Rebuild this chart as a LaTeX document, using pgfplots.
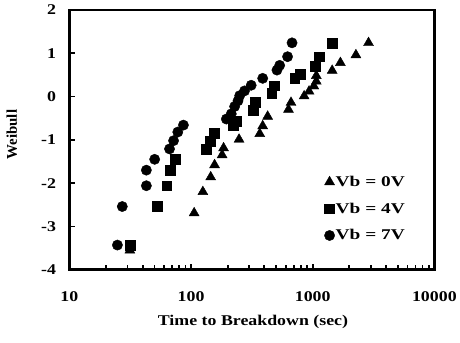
\documentclass[border=0pt]{standalone}
\usepackage{fontspec}
\setmainfont{Liberation Serif}
\usepackage{pgfplots}
\pgfplotsset{compat=1.18}
\newcommand{\stx}[1]{\scalebox{1.2}[1]{#1}}
\newcommand{\stl}[1]{\scalebox{1.3}[1]{#1}}
\begin{document}
\begin{tikzpicture}
\path (-70pt,-73pt) (390pt,272pt);
\begin{axis}[at={(0,0)}, anchor=south west, scale only axis, width=368pt, height=262pt,
  xmode=log, xmin=10, xmax=10000, ymin=-4, ymax=2,
  xtick={10,100,1000,10000}, xticklabels={\stx{10},\stx{100},\stx{1000},\stx{10000}},
  ytick={-4,-3,-2,-1,0,1,2}, yticklabels={\stx{-4},\stx{-3},\stx{-2},\stx{-1},\stx{0},\stx{1},\stx{2}},
  tick align=inside, xtick pos=left, ytick pos=left,
  major tick length=6pt, minor tick length=4.5pt,
  axis line style={black, line width=2.6pt},
  tick style={black, line width=1.8pt},
  /pgf/number format/assume math mode=true,
  ticklabel style={font=\fontsize{15}{18}\selectfont\bfseries},
  xticklabel style={yshift=-19pt},
  yticklabel style={xshift=-10pt},
  xlabel={\stx{Time to Breakdown (sec)}},
  xlabel style={at={(axis description cs:0.503,0)}, anchor=north, yshift=-42pt, font=\fontsize{15}{18}\selectfont\bfseries},
  ylabel={Weibull},
  ylabel style={at={(axis description cs:-0.158,0.52)}, anchor=center, font=\fontsize{15}{18}\selectfont\bfseries},
  legend style={draw=none, fill=none, at={(0.69,0.375)}, anchor=north west,
    font=\fontsize{15}{18}\selectfont\bfseries, row sep=12pt,
    nodes={inner sep=1pt, text height=11pt, text depth=2pt}},
  legend cell align=left,
  legend image code/.code={\draw[#1, only marks] plot coordinates {(0pt,0pt)};},
]
\addplot[only marks, mark=triangle*, mark size=5.8pt, black] coordinates {
(31.4,-3.55) (106,-2.69) (125,-2.20) (145,-1.86) (156,-1.58) (180,-1.35) (185,-1.19)
(248,-0.99) (367,-0.86) (388,-0.68) (426,-0.46) (632,-0.30) (663,-0.14) (850,0.01)
(933,0.12) (1021,0.24) (1070,0.35) (1070,0.48) (1445,0.60) (1688,0.78) (2265,0.96) (2876,1.24)
};
\addlegendentry{\stl{Vb = 0V}}
\addplot[only marks, mark=square*, mark size=5pt, black] coordinates {
(31.4,-3.43) (53.1,-2.53) (63.0,-2.06) (67.1,-1.71) (74.1,-1.45) (134,-1.22) (143,-1.03)
(155,-0.84) (221,-0.67) (235,-0.56) (322,-0.31) (337,-0.14) (460,0.07) (484,0.25)
(711,0.43) (785,0.52) (1040,0.70) (1138,0.92) (1445,1.24)
};
\addlegendentry{\stl{Vb = 4V}}
\addplot[only marks, mark=*, mark size=5.2pt, black] coordinates {
(24.8,-3.43) (27.2,-2.54) (42.9,-2.06) (42.9,-1.70) (50.2,-1.45) (66.5,-1.21) (71.8,-1.02)
(77.8,-0.82) (86.5,-0.66) (195,-0.52) (214,-0.40) (228,-0.23) (243,-0.10) (251,0.02)
(275,0.13) (312,0.26) (388,0.42) (508,0.61) (535,0.72) (621,0.92) (676,1.24)
};
\addlegendentry{\stl{Vb = 7V}}
\end{axis}
\end{tikzpicture}
\end{document}
